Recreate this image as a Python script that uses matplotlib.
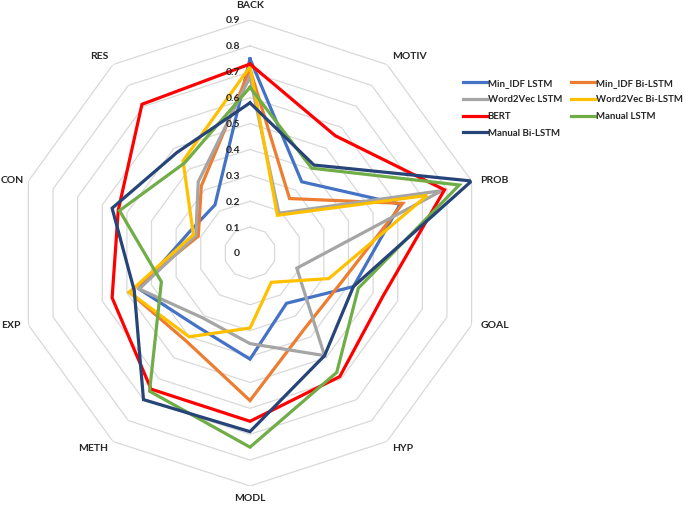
import numpy as np
import matplotlib
matplotlib.use("Agg")
import matplotlib.pyplot as plt

categories = ["BACK", "MOTIV", "PROB", "GOAL", "HYP", "MODL", "METH", "EXP", "CON", "RES"]
min_idf_lstm     = [0.75, 0.34, 0.61, 0.42, 0.24, 0.41, 0.35, 0.45, 0.25, 0.23]
min_idf_bilstm   = [0.71, 0.26, 0.62, 0.37, 0.36, 0.57, 0.42, 0.49, 0.21, 0.32]
w2v_lstm         = [0.68, 0.19, 0.78, 0.19, 0.49, 0.35, 0.31, 0.45, 0.22, 0.34]
w2v_bilstm       = [0.72, 0.18, 0.72, 0.32, 0.14, 0.29, 0.40, 0.49, 0.23, 0.44]
bert             = [0.73, 0.56, 0.79, 0.54, 0.59, 0.65, 0.65, 0.56, 0.535, 0.71]
manual_lstm      = [0.64, 0.405, 0.85, 0.44, 0.57, 0.75, 0.66, 0.36, 0.53, 0.43]
manual_bilstm    = [0.58, 0.42, 0.90, 0.42, 0.49, 0.69, 0.70, 0.47, 0.56, 0.48]
series_names = ["Min_IDF LSTM", "Min_IDF Bi-LSTM", "Word2Vec LSTM", "Word2Vec Bi-LSTM",
                "BERT", "Manual LSTM", "Manual Bi-LSTM"]
series_values = [min_idf_lstm, min_idf_bilstm, w2v_lstm, w2v_bilstm, bert, manual_lstm, manual_bilstm]
series_colors = ["#4472C4", "#ED7D31", "#A5A5A5", "#FFC000", "#FF0000", "#70AD47", "#264478"]
ring_ticks = [0, 0.1, 0.2, 0.3, 0.4, 0.5, 0.6, 0.7, 0.8, 0.9]
tick_labels = ["0", "0.1", "0.2", "0.3", "0.4", "0.5", "0.6", "0.7", "0.8", "0.9"]

plt.rcParams['font.family'] = ['Lato', 'DejaVu Sans']

W, H = 685, 505
fig = plt.figure(figsize=(W / 100, H / 100), dpi=100)
cx, cy, R = 250, 253, 233
ax = fig.add_axes([(cx - R) / W, (H - cy - R) / H, 2 * R / W, 2 * R / H], projection='polar')
ax.set_theta_offset(np.pi / 2)
ax.set_theta_direction(-1)
ax.set_ylim(0, 0.9)
ax.grid(False)
ax.set_xticks([])
ax.set_yticks([])
ax.spines['polar'].set_visible(False)
ax.patch.set_alpha(0)

n = len(categories)
angles = np.linspace(0, 2 * np.pi, n, endpoint=False)
closed = np.concatenate([angles, angles[:1]])

# polygon gridlines
for r in ring_ticks[1:]:
    ax.plot(closed, [r] * (n + 1), color="#D9D9D9", lw=0.9, zorder=1)

# series
handles = []
for name, vals, col in zip(series_names, series_values, series_colors):
    v = list(vals) + [vals[0]]
    h, = ax.plot(closed, v, color=col, lw=2.3, solid_joinstyle='miter', label=name, zorder=3)
    handles.append(h)

# radial tick labels
for r, lab in zip(ring_ticks, tick_labels):
    ax.annotate(lab, xy=(0, r), xytext=(-10, -1), textcoords='offset pixels',
                ha='right', va='center', fontsize=7.5, fontweight='bold', color='#262626', zorder=5)

# category labels
label_cfg = {
    "BACK": (0, 10, 'center', 'bottom'),
    "MOTIV": (5, 3, 'left', 'bottom'),
    "PROB": (9, 0, 'left', 'center'),
    "GOAL": (9, 0, 'left', 'center'),
    "HYP": (5, -2, 'left', 'top'),
    "MODL": (0, -8, 'center', 'top'),
    "METH": (-5, -2, 'right', 'top'),
    "EXP": (-8, 0, 'right', 'center'),
    "CON": (-5, 0, 'right', 'center'),
    "RES": (-5, 3, 'right', 'bottom'),
}
for ang, cat in zip(angles, categories):
    dx, dy, ha, va = label_cfg[cat]
    ax.annotate(cat, xy=(ang, 0.9), xytext=(dx, dy), textcoords='offset pixels',
                ha=ha, va=va, fontsize=7.5, fontweight='bold', color='#262626',
                annotation_clip=False)

order = [0, 2, 4, 6, 1, 3, 5]
leg = fig.legend([handles[i] for i in order], [series_names[i] for i in order],
                 ncol=2, loc='upper left', bbox_to_anchor=(458 / W, 1 - 74 / H),
                 frameon=False, handlelength=2.5, handletextpad=0.1,
                 columnspacing=0.9, labelspacing=0.8, borderpad=0.0,
                 prop={'weight': 'bold', 'size': 6.9})
for t in leg.get_texts():
    t.set_color('#262626')

fig.savefig("out.png", dpi=100)
